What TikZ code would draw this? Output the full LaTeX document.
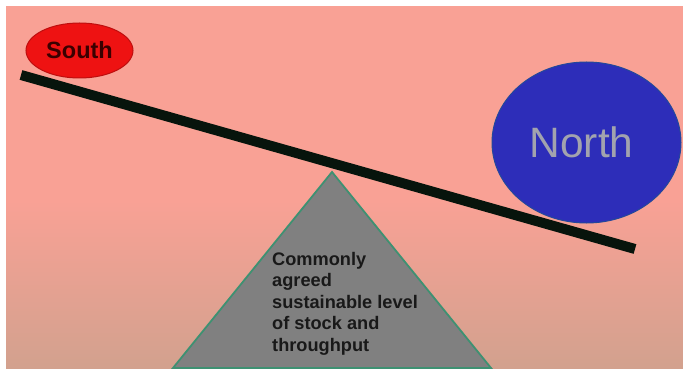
\documentclass[tikz,border=0pt]{standalone}
\usepackage{fontspec}
\setmainfont{Liberation Sans}
\usepackage{tikz}
\usetikzlibrary{positioning}
\usepackage{xcolor}
\definecolor{SlideTop}{HTML}{F9A195}
\definecolor{SlideBot}{HTML}{D2A18E}
\definecolor{SouthRed}{HTML}{EE1212}
\definecolor{SouthInk}{HTML}{3A0000}
\definecolor{NorthBlue}{HTML}{2D2DB9}
\definecolor{NorthEdge}{HTML}{23489A}
\definecolor{NorthInk}{HTML}{A2A3AE}
\definecolor{PivotGrey}{HTML}{808080}
\definecolor{PivotEdge}{HTML}{3E9172}
\definecolor{BeamInk}{HTML}{07140C}
\tikzset{
  blob/.style={ellipse, inner sep=0pt, line width=1pt},
  southblob/.style={blob, fill=SouthRed, draw=SouthRed!80!black,
                    minimum width=107pt, minimum height=55pt,
                    text=SouthInk, font=\bfseries\fontsize{23.5}{28}\selectfont},
  northblob/.style={blob, fill=NorthBlue, draw=NorthEdge,
                    minimum width=189pt, minimum height=161pt,
                    text=NorthInk, font=\fontsize{42.5}{50}\selectfont},
  pivot/.style={fill=PivotGrey, draw=PivotEdge, line width=1.8pt, line join=miter},
  plank/.style={line width=10pt, BeamInk},
  pivotnote/.style={align=left, inner sep=0pt, text=black!90,
                    font=\bfseries\fontsize{18.2}{21.5}\selectfont},
}
\usetikzlibrary{shapes.geometric}
\begin{document}
\begin{tikzpicture}[x=1pt, y=-1pt]
  \useasboundingbox (0,0) rectangle (683,369);
  \fill[white] (0,0) rectangle (683,369);
  \fill[SlideTop] (6,6) rectangle (683,201);
  \shade[top color=SlideTop, bottom color=SlideBot] (6,200) rectangle (683,369);

  % fulcrum
  \coordinate (apex) at (332,172);
  \coordinate (baseL) at (173,368);
  \coordinate (baseR) at (491,368);
  \draw[pivot] (apex) -- (baseL) -- (baseR) -- cycle;
  \node[pivotnote, anchor=north west] (note) at (272,252)
    {Commonly\\agreed\\sustainable level\\of stock and\\throughput};

  % the two sides
  \node[northblob] (north) at (586.5,142.5) {\hspace*{-10pt}North};
  \node[southblob] (south) at (79.5,50.5) {South};

  % beam
  \coordinate (beamL) at (21,75);
  \coordinate (beamR) at (635,249);
  \draw[plank] (beamL) -- (beamR);
\end{tikzpicture}
\end{document}
